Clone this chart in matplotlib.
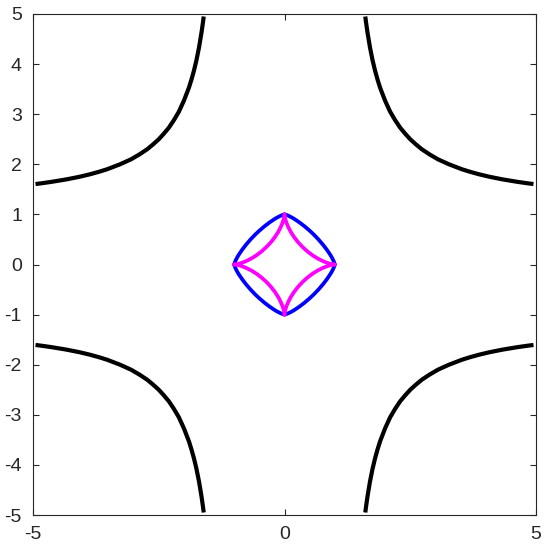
import matplotlib
matplotlib.use("Agg")
import matplotlib.pyplot as plt
import numpy as np

plt.rcParams['font.family'] = ['Liberation Sans', 'DejaVu Sans']
plt.rcParams['axes.unicode_minus'] = False

# One branch of the black curve (first quadrant)
black_x = [1.606, 1.62, 1.65, 1.70, 1.75, 1.80, 1.85, 1.90, 2.00, 2.10, 2.20, 2.30, 2.40, 2.50,
           2.61, 2.73, 2.88, 3.05, 3.27, 3.53, 3.69, 3.87, 4.08, 4.33, 4.63, 4.84, 4.95]
black_y = [4.95, 4.84, 4.63, 4.33, 4.08, 3.87, 3.69, 3.53, 3.27, 3.05, 2.88, 2.73, 2.61, 2.50,
           2.40, 2.30, 2.20, 2.10, 2.00, 1.90, 1.85, 1.80, 1.75, 1.70, 1.65, 1.62, 1.606]

# Blue closed curve, first quadrant
blue_x = [0.000, 0.020, 0.050, 0.100, 0.150, 0.200, 0.300, 0.400, 0.500, 0.590,
          0.675, 0.761, 0.838, 0.906, 0.936, 0.962, 0.985, 0.995, 1.000]
blue_y = [1.000, 0.995, 0.985, 0.962, 0.936, 0.906, 0.838, 0.761, 0.675, 0.590,
          0.500, 0.400, 0.300, 0.200, 0.150, 0.100, 0.050, 0.020, 0.000]

# Magenta star curve, first quadrant
mag_x = [0.000, 0.005, 0.017, 0.040, 0.076, 0.125, 0.189, 0.266, 0.354,
         0.450, 0.550, 0.650, 0.745, 0.830, 0.901, 0.955, 1.000]
mag_y = [1.000, 0.955, 0.901, 0.830, 0.745, 0.650, 0.550, 0.450, 0.354,
         0.266, 0.189, 0.125, 0.076, 0.040, 0.017, 0.005, 0.000]

x_ticks = [-5, 0, 5]
y_ticks = [-5, -4, -3, -2, -1, 0, 1, 2, 3, 4, 5]

signs = [(1, 1), (-1, 1), (-1, -1), (1, -1)]

fig = plt.figure(figsize=(5.45, 5.5), dpi=100)
ax = fig.add_axes([33 / 545, 1 - 515 / 550, (536 - 33) / 545, (515 - 14) / 550])

bx, by = np.array(black_x), np.array(black_y)
ux, uy = np.array(blue_x), np.array(blue_y)
mx, my = np.array(mag_x), np.array(mag_y)

for sx, sy in signs:
    ax.plot(sx * bx, sy * by, color='black', lw=3.0, solid_capstyle='butt', solid_joinstyle='round')
for sx, sy in signs:
    ax.plot(sx * ux, sy * uy, color=(0, 0, 1), lw=2.7, solid_capstyle='round', solid_joinstyle='round')
for sx, sy in signs:
    ax.plot(sx * mx, sy * my, color=(1, 0, 1), lw=2.7, solid_capstyle='round', solid_joinstyle='round')

ax.set_xlim(-5, 5)
ax.set_ylim(-5, 5)
ax.set_xticks(x_ticks)
ax.set_yticks(y_ticks)
ax.set_xticklabels([str(v) for v in x_ticks])
ax.set_yticklabels([str(v) for v in y_ticks])

axcol = (0.15, 0.15, 0.15)
for s in ax.spines.values():
    s.set_color(axcol)
    s.set_linewidth(0.8)
ax.tick_params(direction='in', length=4, width=0.8, color=axcol, labelcolor=axcol,
               labelsize=14, top=True, right=True)
ax.tick_params(axis='x', pad=8)
ax.tick_params(axis='y', pad=8)

fig.savefig('out.png', dpi=100)
